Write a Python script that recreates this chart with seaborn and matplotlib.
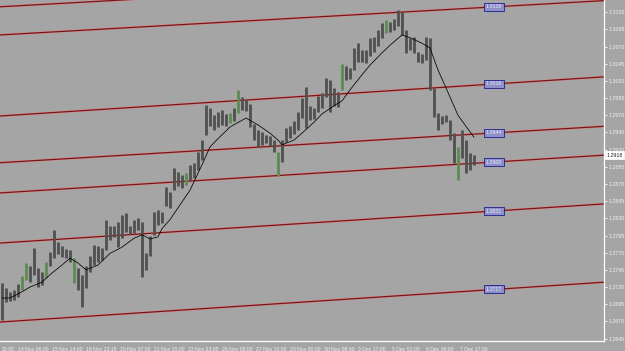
import numpy as np
import pandas as pd
import matplotlib
matplotlib.use("Agg")
import matplotlib.pyplot as plt
import matplotlib.transforms as mtransforms
import seaborn as sns

# ---------------- data ----------------
high = [1.2726, 1.2719, 1.2713, 1.2716, 1.2724, 1.2736, 1.2755, 1.2751, 1.2777, 1.2748,
        1.2742, 1.2756, 1.2771, 1.2803, 1.2785, 1.2780, 1.2775, 1.2774, 1.2762, 1.2748,
        1.2738, 1.2751, 1.2765, 1.2781, 1.2780, 1.2777, 1.2818, 1.2809, 1.2809, 1.2815,
        1.2825, 1.2828, 1.2809, 1.2818, 1.2820, 1.2815, 1.2769, 1.2794, 1.2829, 1.2832,
        1.2829, 1.2866, 1.2858, 1.2894, 1.2888, 1.2883, 1.2886, 1.2898, 1.2901, 1.2917,
        1.2934, 1.2985, 1.2981, 1.2970, 1.2975, 1.2978, 1.2972, 1.2973, 1.2981, 1.3007,
        1.2997, 1.2992, 1.2986, 1.2957, 1.2949, 1.2946, 1.2941, 1.2940, 1.2934, 1.2917,
        1.2934, 1.2951, 1.2954, 1.2962, 1.2975, 1.2995, 1.3011, 1.2984, 1.2981, 1.2998,
        1.3002, 1.3024, 1.3021, 1.3010, 1.3004, 1.3045, 1.3042, 1.3039, 1.3068, 1.3075,
        1.3065, 1.3065, 1.3083, 1.3084, 1.3094, 1.3104, 1.3109, 1.3106, 1.3110, 1.3123,
        1.3120, 1.3094, 1.3083, 1.3084, 1.3062, 1.3059, 1.3084, 1.3083, 1.3010, 1.2973,
        1.2969, 1.2970, 1.2963, 1.2944, 1.2924, 1.2949, 1.2934, 1.2915, 1.2912]
low = [1.2672, 1.2698, 1.2700, 1.2701, 1.2706, 1.2716, 1.2730, 1.2727, 1.2738, 1.2720,
       1.2723, 1.2733, 1.2751, 1.2762, 1.2768, 1.2764, 1.2762, 1.2756, 1.2726, 1.2716,
       1.2691, 1.2719, 1.2742, 1.2752, 1.2756, 1.2759, 1.2774, 1.2788, 1.2793, 1.2778,
       1.2791, 1.2800, 1.2797, 1.2799, 1.2803, 1.2735, 1.2745, 1.2765, 1.2796, 1.2811,
       1.2813, 1.2838, 1.2835, 1.2861, 1.2867, 1.2864, 1.2869, 1.2876, 1.2879, 1.2890,
       1.2905, 1.2941, 1.2954, 1.2949, 1.2953, 1.2956, 1.2954, 1.2959, 1.2962, 1.2973,
       1.2978, 1.2976, 1.2953, 1.2934, 1.2924, 1.2927, 1.2930, 1.2925, 1.2917, 1.2882,
       1.2902, 1.2931, 1.2937, 1.2943, 1.2949, 1.2966, 1.2951, 1.2963, 1.2965, 1.2975,
       1.2981, 1.2997, 1.2975, 1.2984, 1.2982, 1.3007, 1.3021, 1.3023, 1.3036, 1.3048,
       1.3048, 1.3046, 1.3056, 1.3062, 1.3071, 1.3083, 1.3090, 1.3091, 1.3094, 1.3100,
       1.3087, 1.3061, 1.3065, 1.3061, 1.3048, 1.3046, 1.3051, 1.3007, 1.2967, 1.2949,
       1.2957, 1.2960, 1.2934, 1.2901, 1.2876, 1.2908, 1.2886, 1.2890, 1.2898]
green_bars = [5, 6, 11, 18, 46, 57, 59, 69, 85, 96, 114]

ma_index = [0, 2, 5, 7, 10, 12, 15, 17, 19, 21, 24, 27, 30, 33, 35, 37, 39, 40, 42,
            47, 50, 52, 54, 57, 61, 64, 67, 69, 70, 73, 75, 78, 80, 83, 85, 87, 90,
            92, 95, 97, 100, 102, 105, 107, 109, 111, 114, 116, 118]
ma_value = [1.2704, 1.2704, 1.2713, 1.2720, 1.2727, 1.2738, 1.2752, 1.2762, 1.2755,
            1.2745, 1.2752, 1.2769, 1.2778, 1.2791, 1.2796, 1.2790, 1.2793, 1.2805,
            1.2818, 1.2861, 1.2898, 1.2924, 1.2936, 1.2953, 1.2966, 1.2956, 1.2944,
            1.2934, 1.2927, 1.2934, 1.2944, 1.2960, 1.2972, 1.2984, 1.2991, 1.3007,
            1.3029, 1.3043, 1.3061, 1.3072, 1.3087, 1.3083, 1.3075, 1.3068, 1.3036,
            1.3010, 1.2970, 1.2954, 1.2938]

trend_left = [1.3128, 1.3087, 1.2969, 1.2901, 1.2857, 1.2784, 1.2669]
trend_right = [1.3177, 1.3137, 1.3026, 1.2954, 1.2912, 1.2841, 1.2727]
trend_labels = ["", "1.3128", "1.3016", "1.2944", "1.2900", "1.2831", "1.2717"]

date_labels = ["14 Nov 06:00", "15 Nov 14:00", "18 Nov 23:15", "20 Nov 07:00",
               "21 Nov 15:00", "22 Nov 23:05", "26 Nov 08:00", "27 Nov 16:00",
               "29 Nov 00:00", "30 Nov 08:00", "3 Dec 17:00", "5 Dec 01:00",
               "6 Dec 09:00", "7 Dec 17:00"]
first_date_label = "22:05"
price_ticks = [1.3120, 1.3095, 1.3070, 1.3045, 1.3020, 1.2995, 1.2970, 1.2945,
               1.2920, 1.2895, 1.2870, 1.2845, 1.2820, 1.2795, 1.2770, 1.2745,
               1.2720, 1.2695, 1.2670, 1.2645]
last_price = 1.2912
last_price_label = "1.2918"

# ---------------- styling ----------------
sns.set_style("white")
plt.rcParams["font.family"] = ["Liberation Sans", "DejaVu Sans"]

BG = "#a5a5a5"
W, H = 625, 351
fig = plt.figure(figsize=(W / 100, H / 100), dpi=100, facecolor=BG)
ax = fig.add_axes([0, 10 / H, 604 / W, 341 / H])
ax.set_facecolor(BG)

x_lo, x_hi = -0.5, 150.5
ax.set_xlim(x_lo, x_hi)
ax.set_ylim(1.26414, 1.31379)

bars = pd.DataFrame({"i": np.arange(len(high)), "high": high, "low": low})
bars["green"] = bars["i"].isin(green_bars)

# trend lines (drawn first, under price)
for lft, rgt in zip(trend_left, trend_right):
    ax.plot([x_lo, x_hi], [lft, rgt], color="#c99090", lw=1.9, solid_capstyle="butt", zorder=1)
    ax.plot([x_lo, x_hi], [lft, rgt], color="#7a1414", lw=0.9, solid_capstyle="butt", zorder=1.1)

# price bars
gray = bars[~bars["green"]]
grn = bars[bars["green"]]
ax.vlines(gray["i"], gray["low"], gray["high"], colors="#505050", lw=2.0, zorder=2)
ax.vlines(grn["i"], grn["low"], grn["high"], colors="#5f8a55", lw=2.0, zorder=2)

# moving average
sns.lineplot(x=ma_index, y=ma_value, ax=ax, color="black", lw=0.55, zorder=3)

# trend-line labels
label_x = 123
for lft, rgt, txt in zip(trend_left, trend_right, trend_labels):
    if not txt:
        continue
    yv = lft + (rgt - lft) * (label_x - x_lo) / (x_hi - x_lo)
    ax.text(label_x, yv, txt, fontsize=3.8, color="#ececff", ha="center", va="center",
            zorder=5,
            bbox=dict(boxstyle="square,pad=0.28", facecolor="#8e90c6",
                      edgecolor="#1c1c90", lw=0.6))

# spines
for s in ["top", "left"]:
    ax.spines[s].set_visible(False)
for s in ["right", "bottom"]:
    ax.spines[s].set_color("white")
    ax.spines[s].set_linewidth(0.9)

# y axis
ax.yaxis.tick_right()
ax.set_yticks(price_ticks)
ax.set_yticklabels([f"{p:.4f}" for p in price_ticks])
ax.tick_params(axis="y", direction="out", length=2, width=0.6, color="white",
               labelsize=3.8, labelcolor="#f2f2f2", pad=1.2)

# x axis
tick_pos = [4 + 8.5 * k for k in range(len(date_labels))]
ax.set_xticks(tick_pos)
ax.set_xticklabels(date_labels)
for lbl in ax.get_xticklabels():
    lbl.set_horizontalalignment("left")
ax.tick_params(axis="x", direction="out", length=3, width=0.6, color="white",
               labelsize=3.7, labelcolor="#f2f2f2", pad=1.5)
ax.annotate(first_date_label, xy=(0, 0), xycoords="axes fraction",
            xytext=(1, -4.5), textcoords="offset points",
            fontsize=3.7, color="#f2f2f2", ha="left", va="top", annotation_clip=False)

# current price marker on the axis
ax.text(1.004, last_price, last_price_label,
        transform=mtransforms.blended_transform_factory(ax.transAxes, ax.transData),
        fontsize=3.8, color="#202020", ha="left", va="center", zorder=6, clip_on=False,
        bbox=dict(boxstyle="square,pad=0.3", facecolor="white", edgecolor="white", lw=0.5))

ax.set_xlabel("")
ax.set_ylabel("")
ax.grid(False)
fig.savefig("out.png", dpi=100, facecolor=BG)
